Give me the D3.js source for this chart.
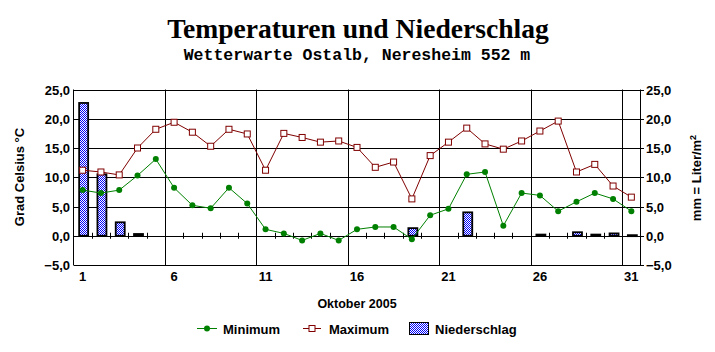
<!DOCTYPE html>
<html>
<head>
<meta charset="utf-8">
<script src="https://cdn.jsdelivr.net/npm/d3@7"></script>
<style>
  body { margin: 0; background: #fff; }
  text { font-family: "Liberation Sans", Arial, sans-serif; font-weight: bold; }
</style>
</head>
<body>
<div id="chart"></div>
<script>
// Chart size
var width = 715;
var height = 352;

// Oktober 2005, days 1..31
var days = d3.range(1, 32);
var dayLabels = [1, 6, 11, 16, 21, 26, 31];

// Tagesminimum / -maximum in °C
var tempMin = [7.8, 7.3, 7.8, 10.3, 13.1, 8.2, 5.2, 4.7, 8.2, 5.5,
               1.1, 0.4, -0.8, 0.4, -0.8, 1.1, 1.5, 1.5, -0.6, 3.5,
               4.6, 10.5, 10.9, 1.7, 7.3, 6.9, 4.2, 5.8, 7.3, 6.3, 4.2];
var tempMax = [11.2, 10.9, 10.4, 15.0, 18.2, 19.4, 17.7, 15.3, 18.2, 17.4,
               11.2, 17.5, 16.8, 16.0, 16.2, 15.1, 11.7, 12.6, 6.3, 13.7,
               16.0, 18.4, 15.7, 14.8, 16.2, 17.9, 19.6, 10.9, 12.2, 8.5, 6.6];
// Niederschlag in mm
var rain = [22.7, 10.5, 2.3, 0.3, 0, 0, 0, 0, 0, 0,
            0, 0, 0, 0, 0, 0, 0, 0, 1.3, 0,
            0, 4.0, 0, 0, 0, 0.2, 0, 0.6, 0.2, 0.4, 0.1];

var yTicks = [-5, 0, 5, 10, 15, 20, 25];
var fmt = function (v) { return d3.format('.1f')(v).replace('.', ','); };

var svg = d3.select('#chart')
            .append('svg')
            .attr('width', width)
            .attr('height', height);

// dotted pattern for the rain bars
var defs = svg.append('defs');
var pat = defs.append('pattern')
              .attr('id', 'dots')
              .attr('width', 2)
              .attr('height', 2)
              .attr('patternUnits', 'userSpaceOnUse');
pat.append('rect').attr('width', 2).attr('height', 2).attr('fill', '#fff');
pat.append('rect').attr('width', 1).attr('height', 1).attr('fill', '#0000ff');
pat.append('rect').attr('x', 1).attr('y', 1).attr('width', 1).attr('height', 1).attr('fill', '#0000ff');

// scales
var xScale = d3.scaleBand()
               .domain(days)
               .range([73.5, 640.5])
               .padding(0);

var yScale = d3.scaleLinear()
               .domain([-5, 25])
               .range([265, 89.5]);

var cx = function (d) { return xScale(d) + xScale.bandwidth() / 2; };

// title
svg.append('text')
   .attr('x', 358).attr('y', 38)
   .attr('text-anchor', 'middle')
   .style('font-family', '"Liberation Serif", "Times New Roman", serif')
   .style('font-size', '27.6px')
   .text('Temperaturen und Niederschlag');

svg.append('text')
   .attr('x', 357).attr('y', 60)
   .attr('text-anchor', 'middle')
   .style('font-family', '"Liberation Mono", "Courier New", monospace')
   .style('font-size', '16.5px')
   .text('Wetterwarte Ostalb, Neresheim 552 m');

// horizontal grid lines
svg.selectAll('line.hgrid')
   .data(yTicks)
   .enter()
   .append('line')
   .attr('class', 'hgrid')
   .attr('x1', 73.5).attr('x2', 644)
   .attr('y1', function (d) { return Math.round(yScale(d)) + 0.5; })
   .attr('y2', function (d) { return Math.round(yScale(d)) + 0.5; })
   .style('stroke', '#000');

// vertical grid lines (left edge of every 5th day)
svg.selectAll('line.vgrid')
   .data(dayLabels.slice(1))
   .enter()
   .append('line')
   .attr('class', 'vgrid')
   .attr('x1', function (d) { return Math.round(xScale(d)) + 0.5; })
   .attr('x2', function (d) { return Math.round(xScale(d)) + 0.5; })
   .attr('y1', yScale(25)).attr('y2', yScale(-5))
   .style('stroke', '#000');

// left and right border
[73.5, 640.5].forEach(function (x) {
  svg.append('line')
     .attr('x1', x).attr('x2', x)
     .attr('y1', yScale(25)).attr('y2', yScale(-5))
     .style('stroke', '#000');
});

// small day ticks on the zero line
svg.selectAll('line.dtick')
   .data(days.slice(1))
   .enter()
   .append('line')
   .attr('class', 'dtick')
   .attr('x1', function (d) { return Math.round(xScale(d)) + 0.5; })
   .attr('x2', function (d) { return Math.round(xScale(d)) + 0.5; })
   .attr('y1', yScale(0) - 3).attr('y2', yScale(0) + 3)
   .style('stroke', '#000');

// y labels
svg.selectAll('text.yl')
   .data(yTicks)
   .enter()
   .append('text')
   .attr('class', 'yl')
   .attr('x', 70)
   .attr('y', function (d) { return yScale(d) + 5; })
   .attr('text-anchor', 'end')
   .style('font-size', '13px')
   .text(fmt);

svg.selectAll('text.yr')
   .data(yTicks)
   .enter()
   .append('text')
   .attr('class', 'yr')
   .attr('x', 646)
   .attr('y', function (d) { return yScale(d) + 5; })
   .style('font-size', '13px')
   .text(fmt);

// axis titles
svg.append('text')
   .attr('transform', 'translate(24,177) rotate(-90)')
   .attr('text-anchor', 'middle')
   .style('font-size', '13px')
   .text('Grad Celsius °C');

var rt = svg.append('text')
   .attr('transform', 'translate(701,178) rotate(-90)')
   .attr('text-anchor', 'middle')
   .style('font-size', '13px');
rt.append('tspan').text('mm = Liter/m');
rt.append('tspan').attr('dy', -5).style('font-size', '9px').text('2');

// x labels
svg.selectAll('text.xl')
   .data(dayLabels)
   .enter()
   .append('text')
   .attr('class', 'xl')
   .attr('x', cx)
   .attr('y', 281)
   .attr('text-anchor', 'middle')
   .style('font-size', '13px')
   .text(function (d) { return d; });

svg.append('text')
   .attr('x', 357).attr('y', 308)
   .attr('text-anchor', 'middle')
   .style('font-size', '12.5px')
   .text('Oktober 2005');

// rain bars
svg.selectAll('rect.bar')
   .data(days.filter(function (d) { return rain[d - 1] > 0; }))
   .enter()
   .append('rect')
   .attr('class', 'bar')
   .attr('x', function (d) { return cx(d) - 3.5; })
   .attr('width', 9)
   .attr('y', function (d) { return yScale(rain[d - 1]); })
   .attr('height', function (d) { return Math.max(1, yScale(0) - yScale(rain[d - 1])); })
   .style('fill', 'url(#dots)')
   .style('stroke', '#000')
   .style('stroke-width', 1.8);

// temperature lines
var minLine = d3.line()
                .x(function (d) { return cx(d); })
                .y(function (d) { return yScale(tempMin[d - 1]); });
var maxLine = d3.line()
                .x(function (d) { return cx(d); })
                .y(function (d) { return yScale(tempMax[d - 1]); });

svg.append('path')
   .attr('d', maxLine(days))
   .style('fill', 'none')
   .style('stroke', '#800000');

svg.append('path')
   .attr('d', minLine(days))
   .style('fill', 'none')
   .style('stroke', '#008000');

svg.selectAll('rect.maxpt')
   .data(days)
   .enter()
   .append('rect')
   .attr('class', 'maxpt')
   .attr('x', function (d) { return cx(d) - 3; })
   .attr('y', function (d) { return yScale(tempMax[d - 1]) - 3; })
   .attr('width', 6).attr('height', 6)
   .style('fill', '#fff')
   .style('stroke', '#800000');

svg.selectAll('circle.minpt')
   .data(days)
   .enter()
   .append('circle')
   .attr('class', 'minpt')
   .attr('cx', cx)
   .attr('cy', function (d) { return yScale(tempMin[d - 1]); })
   .attr('r', 3)
   .style('fill', '#008000');

// legend
var ly = 328.5;
svg.append('line').attr('x1', 197).attr('x2', 217).attr('y1', ly).attr('y2', ly).style('stroke', '#008000');
svg.append('circle').attr('cx', 207).attr('cy', ly).attr('r', 3).style('fill', '#008000');
svg.append('text').attr('x', 223).attr('y', ly + 5).style('font-size', '13px').text('Minimum');

svg.append('line').attr('x1', 303).attr('x2', 321).attr('y1', ly).attr('y2', ly).style('stroke', '#800000');
svg.append('rect').attr('x', 309).attr('y', ly - 3).attr('width', 6).attr('height', 6)
   .style('fill', '#fff').style('stroke', '#800000');
svg.append('text').attr('x', 329).attr('y', ly + 5).style('font-size', '13px').text('Maximum');

svg.append('rect').attr('x', 409.5).attr('y', 322.5).attr('width', 19).attr('height', 12)
   .style('fill', 'url(#dots)').style('stroke', '#000');
svg.append('text').attr('x', 435).attr('y', ly + 5).style('font-size', '13px').text('Niederschlag');
</script>
</body>
</html>
